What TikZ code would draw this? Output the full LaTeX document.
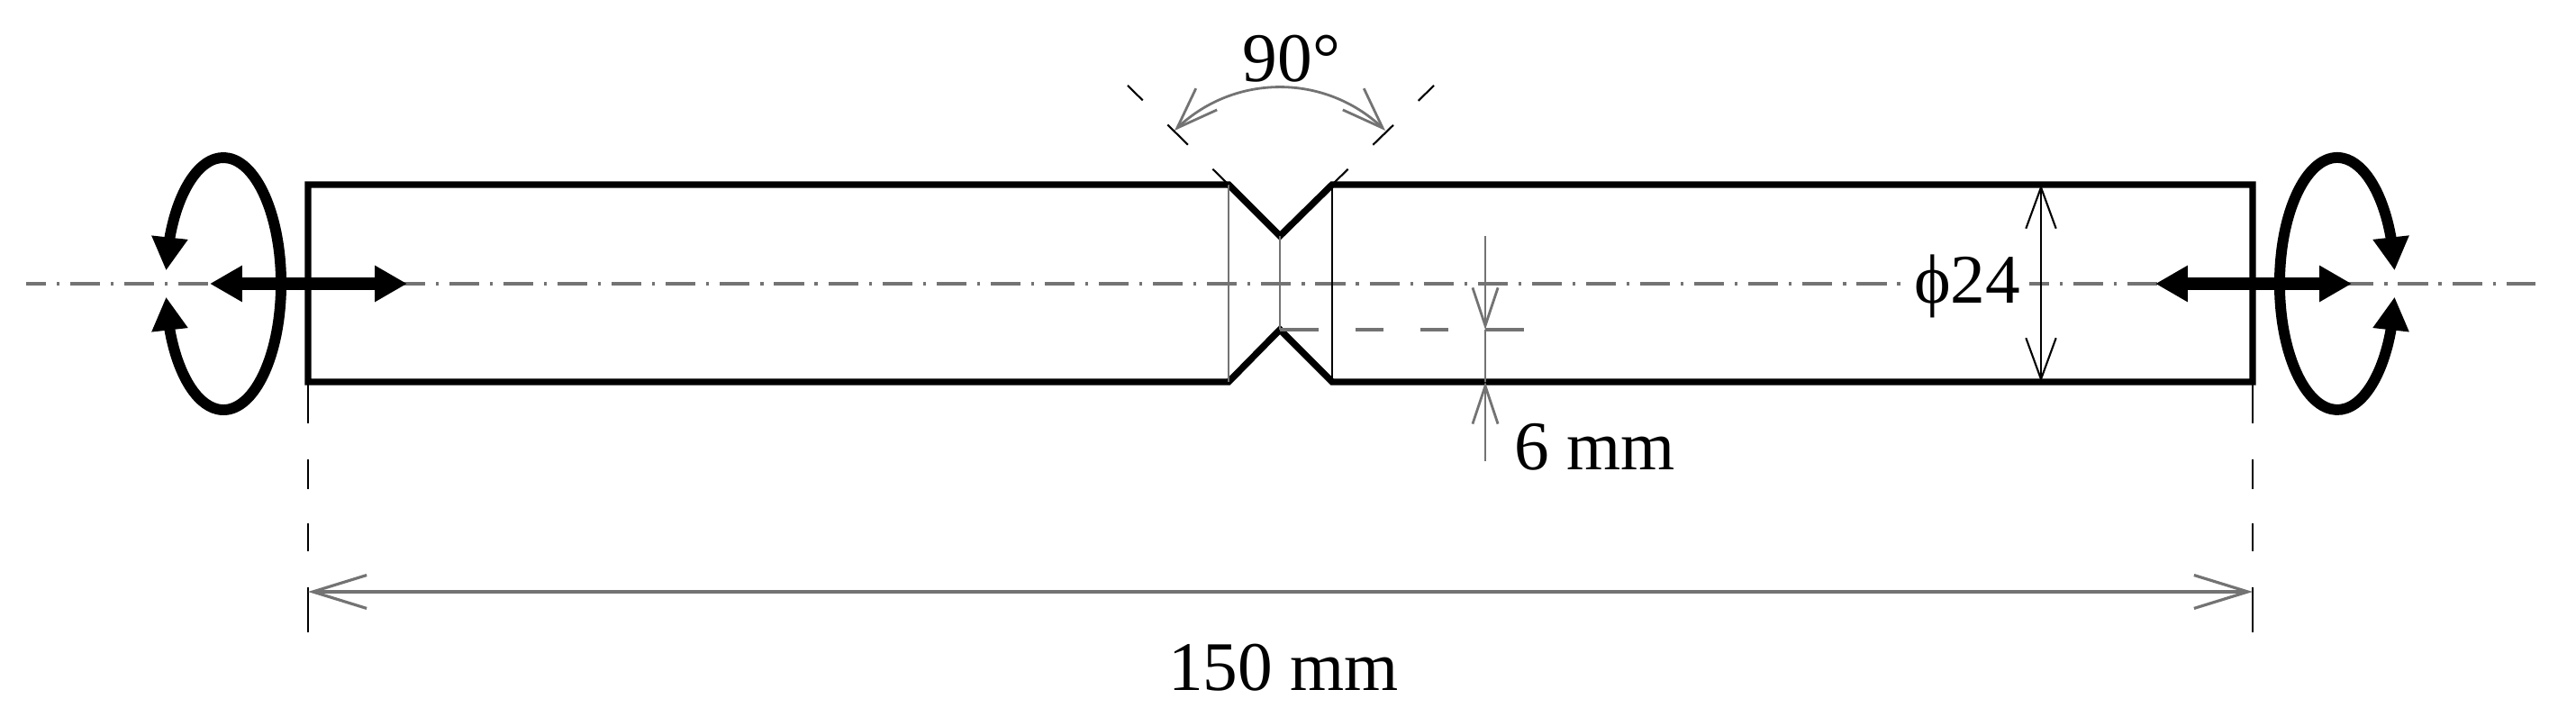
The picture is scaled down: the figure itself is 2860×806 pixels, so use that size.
\documentclass[tikz,border=0pt]{standalone}
\usepackage{fontspec}
\setmainfont{Liberation Serif}
\usetikzlibrary{arrows.meta,bending}
\definecolor{axisgray}{gray}{0.45}
\tikzstyle{label} = [font=\fontsize{22}{26}\selectfont, anchor=base, inner sep=0pt]
\tikzstyle{outline} = [draw, line width=2.1pt, line join=miter]
\tikzstyle{thin} = [draw, line width=0.7pt]
\tikzstyle{axis} = [draw=axisgray, line width=1.4pt, dash pattern=on 9.4pt off 3.4pt on 0.9pt off 3.4pt, dash phase=3.1pt]
\tikzstyle{dimline} = [draw, line width=0.6pt, arrows={Straight Barb[length=13pt,width=9.5pt]-Straight Barb[length=13pt,width=9.5pt]}]
\tikzstyle{dimend} = [draw=axisgray, line width=0.8pt, -{Straight Barb[length=12pt,width=8pt]}]
\tikzstyle{extline} = [draw, line width=0.6pt]
\tikzstyle{load} = [draw, line width=4pt, {Triangle[length=10.2pt,width=10.8pt]}-{Triangle[length=10.2pt,width=10.8pt]}]
\tikzstyle{spin} = [draw, line width=3.4pt, {Triangle[length=10.5pt,width=10.8pt]}-{Triangle[length=10.5pt,width=10.8pt]}]
\begin{document}
\begin{tikzpicture}[x=0.1mm, y=0.1mm]
    \useasboundingbox (0,0) rectangle (2860,806);

    % corners of the bar and of the notch
    \coordinate (barNW) at (342,601);
    \coordinate (barSW) at (342,382);
    \coordinate (barNE) at (2501,601);
    \coordinate (barSE) at (2501,382);
    \coordinate (notchNW) at (1364,601);
    \coordinate (notchSW) at (1364,382);
    \coordinate (notchNE) at (1479,601);
    \coordinate (notchSE) at (1479,382);
    \coordinate (apexN) at (1421,544);
    \coordinate (apexS) at (1421,440);

    % axis of the bar
    \coordinate (axisL) at (29,491);
    \coordinate (axisR) at (2815,491);
    \draw [axis] (axisL) -- (axisR);

    % label of the diameter sits on the axis and hides it
    \node [label, fill=white, inner xsep=2.8pt, inner ysep=1pt] (diam) at (2184,469) {ϕ24};

    % the bar
    \draw [outline] (notchNW) -- (barNW) -- (barSW) -- (notchSW) -- (apexS) -- (notchSE)
        -- (barSE) -- (barNE) -- (notchNE) -- (apexN) -- cycle;
    \draw [thin, draw=axisgray] (notchNW) -- (notchSW);
    \draw [thin, draw=axisgray] (apexN) -- (apexS);
    \draw [thin] (notchNE) -- (notchSE);

    % 90 degree dimension
    \coordinate (angleL) at (1304,661);
    \coordinate (angleR) at (1538,661);
    \coordinate (rayL) at (1252,711);
    \coordinate (rayR) at (1592,711);
    \draw [extline, dash pattern=on 7pt off 11pt on 9pt off 11pt on 7pt] (notchNW) -- (rayL);
    \draw [extline, dash pattern=on 7pt off 11pt on 9pt off 11pt on 7pt] (notchNE) -- (rayR);
    \draw [dimline, draw=axisgray, line width=0.8pt] (angleL) to [bend left=45] (angleR);
    \node [label] (angle) at (1434,715) {90°};

    % diameter dimension
    \coordinate (diamN) at (2266,601);
    \coordinate (diamS) at (2266,382);
    \draw [dimline] (diamN) -- (diamS);

    % 6 mm dimension
    \coordinate (depthN) at (1649,544);
    \coordinate (depthA) at (1649,440);
    \coordinate (depthB) at (1649,382);
    \coordinate (depthS) at (1649,294);
    \coordinate (depthE) at (1693,440);
    \draw [draw=axisgray, line width=1.3pt, dash pattern=on 12.2pt off 11.7pt on 8.8pt off 11.7pt on 8.8pt off 11.7pt on 12.2pt] (apexS) -- (depthE);
    \draw [dimend] (depthN) -- (depthA);
    \draw [dimend] (depthS) -- (depthB);
    \draw [thin, draw=axisgray] (depthA) -- (depthB);
    \node [label, anchor=base west] (depth) at (1681,284) {6 mm};

    % 150 mm dimension
    \coordinate (lenL) at (342,149);
    \coordinate (lenR) at (2501,149);
    \coordinate (extL) at (342,104);
    \coordinate (extR) at (2501,104);
    \draw [extline, dash pattern=on 13pt off 11.4pt on 9.4pt off 10.8pt on 9pt off 11.4pt on 14pt] (barSW) -- (extL);
    \draw [extline, dash pattern=on 13pt off 11.4pt on 9.4pt off 10.8pt on 9pt off 11.4pt on 14pt] (barSE) -- (extR);
    \draw [dimline, line width=0.9pt, draw=axisgray, arrows={Straight Barb[length=17pt,width=10.5pt]-Straight Barb[length=17pt,width=10.5pt]}] (lenL) -- (lenR);
    \node [label] (length) at (1425,39) {150 mm};

    % axial load and torsion at both ends
    \coordinate (loadLa) at (233,491);
    \coordinate (loadLb) at (452,491);
    \coordinate (loadRa) at (2393,491);
    \coordinate (loadRb) at (2611,491);
    \draw [load] (loadLa) -- (loadLb);
    \draw [load] (loadRa) -- (loadRb);

    \coordinate (spinL) at (184.4,505.6);
    \coordinate (spinR) at (2658.6,476.4);
    \draw [spin] (spinL) arc [start angle=174, end angle=-174, x radius=64, y radius=140];
    \draw [spin] (spinR) arc [start angle=-6, end angle=-354, x radius=64, y radius=140];
\end{tikzpicture}
\end{document}
